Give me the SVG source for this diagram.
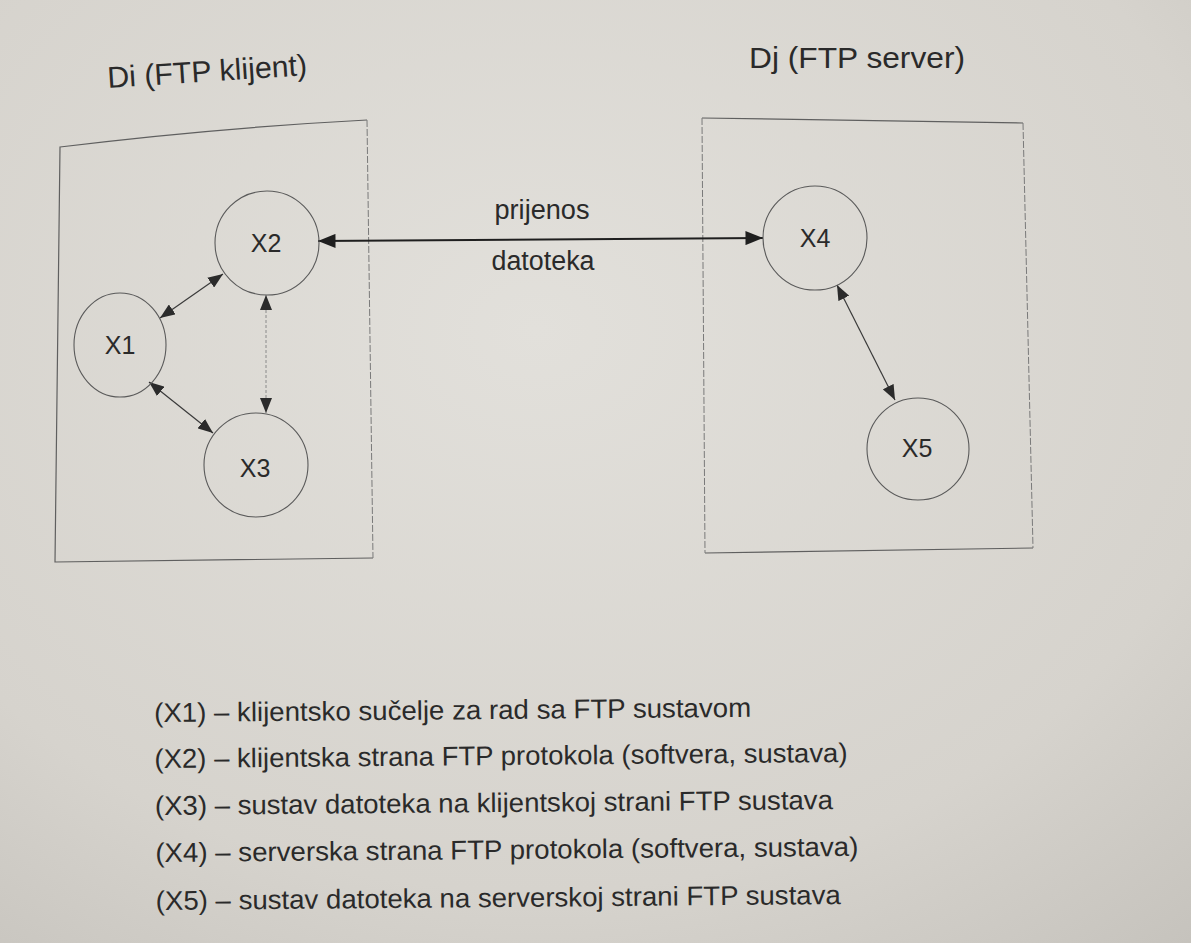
<svg xmlns="http://www.w3.org/2000/svg" width="1191" height="943" viewBox="0 0 1191 943">
  <defs>
    <radialGradient id="paper" cx="0.45" cy="0.35" r="0.85">
      <stop offset="0" stop-color="#e2e0db"/>
      <stop offset="0.7" stop-color="#d6d3cd"/>
      <stop offset="1" stop-color="#c6c3bd"/>
    </radialGradient>
    <marker id="ah" viewBox="0 0 10 8" refX="10" refY="4" markerWidth="15" markerHeight="12" markerUnits="userSpaceOnUse" orient="auto-start-reverse">
      <path d="M0,0 L10,4 L0,8 z" fill="#2b2b2b"/>
    </marker>
    <marker id="ahBig" viewBox="0 0 10 8" refX="10" refY="4" markerWidth="18" markerHeight="14" markerUnits="userSpaceOnUse" orient="auto-start-reverse">
      <path d="M0,0 L10,4 L0,8 z" fill="#1f1f1f"/>
    </marker>
    <style>
      .t { font-family: "Liberation Sans", Arial, sans-serif; fill: #2a2a2a; }
      .node { fill: none; stroke: #5a5a5a; stroke-width: 1.1; }
      .box { fill: none; stroke: #5f5f5f; stroke-width: 1.2; }
      .boxside { fill: none; stroke: #7a7a7a; stroke-width: 1; stroke-dasharray: 7 2; }
      .lbl { font-size: 25px; text-anchor: middle; }
      .edge { stroke: #3a3a3a; stroke-width: 1.2; fill: none; marker-start: url(#ah); marker-end: url(#ah); }
      .leg { font-size: 27px; }
    </style>
  </defs>
  <rect x="0" y="0" width="1191" height="943" fill="url(#paper)"/>

  <g id="client-box">
    <path class="box" d="M373,558 L55,562 L60,147 Q215,128 367,120"/>
    <path class="boxside" d="M367,120 L373,558"/>
    <text class="t" x="108" y="88" font-size="30" textLength="200" lengthAdjust="spacingAndGlyphs" transform="rotate(-3.7 108 88)">Di (FTP klijent)</text>
  </g>

  <g id="server-box">
    <path class="box" d="M702,118 L1023,123"/>
    <path class="box" d="M705,553 L1033,548"/>
    <path class="boxside" d="M702,118 L705,553"/>
    <path class="boxside" d="M1023,123 L1033,548"/>
    <text class="t" x="749" y="68" font-size="30" textLength="216" lengthAdjust="spacingAndGlyphs">Dj (FTP server)</text>
  </g>

  <g id="connectors">
    <line x1="318" y1="241" x2="763" y2="238" stroke="#1f1f1f" stroke-width="2" marker-start="url(#ahBig)" marker-end="url(#ahBig)"/>
    <line class="edge" x1="160" y1="318" x2="223" y2="274"/>
    <line class="edge" x1="149" y1="382" x2="213" y2="433"/>
    <line x1="266" y1="295" x2="266" y2="413" stroke="#8a8a8a" stroke-width="1" stroke-dasharray="3 2" marker-start="url(#ah)" marker-end="url(#ah)"/>
    <line class="edge" x1="837" y1="285" x2="895" y2="400"/>
    <text class="t" x="542" y="219" font-size="27" text-anchor="middle" textLength="95" lengthAdjust="spacingAndGlyphs">prijenos</text>
    <text class="t" x="543" y="270" font-size="27" text-anchor="middle" textLength="103" lengthAdjust="spacingAndGlyphs">datoteka</text>
  </g>

  <g id="X1">
    <ellipse class="node" cx="120" cy="345" rx="46" ry="52"/>
    <text class="t lbl" x="120" y="354">X1</text>
  </g>
  <g id="X2">
    <circle class="node" cx="267" cy="243" r="52"/>
    <text class="t lbl" x="266" y="252">X2</text>
  </g>
  <g id="X3">
    <circle class="node" cx="256" cy="465" r="52"/>
    <text class="t lbl" x="255" y="477">X3</text>
  </g>
  <g id="X4">
    <circle class="node" cx="815" cy="238" r="52"/>
    <text class="t lbl" x="815" y="247">X4</text>
  </g>
  <g id="X5">
    <circle class="node" cx="918" cy="449" r="51"/>
    <text class="t lbl" x="917" y="457">X5</text>
  </g>

  <g id="legend" transform="rotate(-0.5 155 815)">
    <text class="t leg" x="155" y="722" textLength="597" lengthAdjust="spacingAndGlyphs">(X1) – klijentsko sučelje za rad sa FTP sustavom</text>
    <text class="t leg" x="155" y="768" textLength="693" lengthAdjust="spacingAndGlyphs">(X2) – klijentska strana FTP protokola (softvera, sustava)</text>
    <text class="t leg" x="155" y="815" textLength="678" lengthAdjust="spacingAndGlyphs">(X3) – sustav datoteka na klijentskoj strani FTP sustava</text>
    <text class="t leg" x="155" y="862" textLength="703" lengthAdjust="spacingAndGlyphs">(X4) – serverska strana FTP protokola (softvera, sustava)</text>
    <text class="t leg" x="155" y="910" textLength="685" lengthAdjust="spacingAndGlyphs">(X5) – sustav datoteka na serverskoj strani FTP sustava</text>
  </g>
</svg>
